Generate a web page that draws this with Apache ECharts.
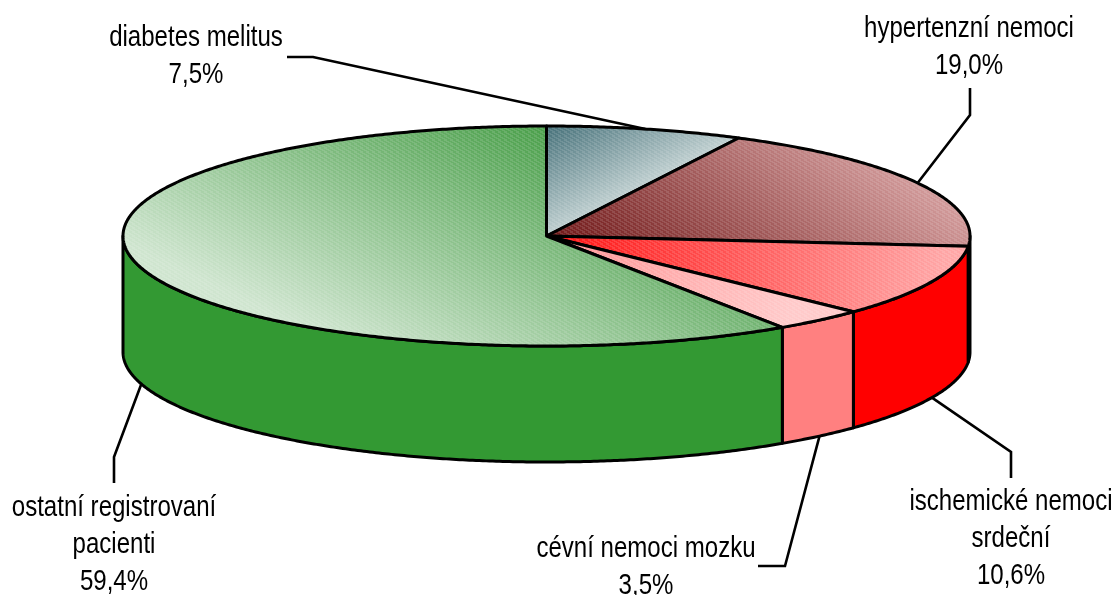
<!DOCTYPE html>
<html>
<head>
<meta charset="utf-8">
<style>
  html, body { margin: 0; padding: 0; background: #fff; }
  #chart { width: 1117px; height: 595px; }
</style>
<script src="https://cdn.jsdelivr.net/npm/echarts@6/dist/echarts.min.js"></script>
</head>
<body>
<div id="chart"></div>
<script>
// hodnoty z obrazku, poradi po smeru hodin od 12 hodin
var categories = ['diabetes melitus', 'hypertenzní nemoci', 'ischemické nemoci\nsrdeční', 'cévní nemoci mozku', 'ostatní registrovaní\npacienti'];
var values = [7.5, 19.0, 10.6, 3.5, 59.4];

// vzhled a rozlozeni
var cx = 546.5, cy = 236, rx = 423.5, ry = 110, depth = 116;
var sideColors = ['#4d7a80', '#8c3a3a', '#ff0000', '#ff8080', '#339933'];
var topGradients = [
  [546, 126, 595, 220, '#457079', '#c8d6d6'],
  [546, 236, 714, 12, '#701818', '#d6a0a0'],
  [546, 236, 940, 290, '#ff1010', '#ffa6a6'],
  [546, 236, 790, 320, '#ff9090', '#ffcaca'],
  [546, 126, 425, 385, '#4a9f4a', '#cfe5cf']
];
var leaderBends = [
  [[313, 57], [287, 57]],
  [[970, 115], [970, 88]],
  [[1011, 452], [1011, 478]],
  [[785, 566], [758, 566]],
  [[114, 457], [114, 483]]
];
var labelPos = [[196, 38], [969, 29], [1011, 502], [646, 549], [114, 508]];
var lineHeight = 37;
var fontCss = '29.5px "Liberation Sans", Arial, sans-serif';
var textSqueeze = 0.815;

var total = values.reduce(function (a, b) { return a + b; }, 0);
var starts = [];
values.reduce(function (sum, v, i) { starts[i] = sum; return sum + v; }, 0);

function ang(share) { return share / total * Math.PI * 2; }
function pt(a, dy) { return [cx + rx * Math.sin(a), cy - ry * Math.cos(a) + (dy || 0)]; }
function arc(a1, a2, dy) {
  var n = Math.max(2, Math.ceil(Math.abs(a2 - a1) / 0.008)), out = [];
  for (var i = 0; i <= n; i++) out.push(pt(a1 + (a2 - a1) * i / n, dy));
  return out;
}

// jemne srafovani horni plochy
var hatch = document.createElement('canvas');
hatch.width = 6; hatch.height = 4;
(function () {
  var c = hatch.getContext('2d');
  c.fillStyle = 'rgba(255,255,255,0.12)';
  c.fillRect(0, 0, 3, 1); c.fillRect(2, 1, 3, 1); c.fillRect(4, 2, 2, 1); c.fillRect(0, 2, 1, 1); c.fillRect(0, 3, 3, 1);
})();

function renderLeader(params, api) {
  var i = api.value(0);
  var mid = ang(starts[i] + api.value(1) / 2);
  var front = Math.cos(mid) < 0;
  var pts = [pt(mid, front ? depth : 0)].concat(leaderBends[i]);
  return { type: 'polyline', shape: { points: pts }, style: { stroke: '#000', lineWidth: 2.6, fill: null } };
}

function renderSide(params, api) {
  var i = api.value(0);
  var a1 = Math.max(ang(starts[i]), Math.PI / 2);
  var a2 = Math.min(ang(starts[i] + api.value(1)), Math.PI * 1.5);
  if (a2 <= a1) return null;
  var pts = arc(a1, a2, 0).concat(arc(a2, a1, depth));
  return { type: 'polygon', shape: { points: pts }, style: { fill: sideColors[i], stroke: '#000', lineWidth: 3, lineJoin: 'round' } };
}

function renderTop(params, api) {
  var i = api.value(0);
  var a1 = ang(starts[i]), a2 = ang(starts[i] + api.value(1));
  var pts = [[cx, cy]].concat(arc(a1, a2, 0));
  var g = topGradients[i];
  return {
    type: 'group',
    children: [
      { type: 'polygon', shape: { points: pts }, style: {
        fill: { type: 'linear', global: true, x: g[0], y: g[1], x2: g[2], y2: g[3],
          colorStops: [{ offset: 0, color: g[4] }, { offset: 1, color: g[5] }] } } },
      { type: 'polygon', shape: { points: pts }, style: {
        fill: { image: hatch, repeat: 'repeat' }, stroke: '#000', lineWidth: 3, lineJoin: 'round' } }
    ]
  };
}

function renderLabel(params, api) {
  var i = api.value(0);
  var lines = categories[i].split('\n').concat(api.value(1).toFixed(1).replace('.', ',') + '%');
  return {
    type: 'group',
    children: lines.map(function (t, k) {
      return { type: 'text', x: labelPos[i][0], y: labelPos[i][1] + k * lineHeight, scaleX: textSqueeze,
        style: { text: t, textAlign: 'center', textVerticalAlign: 'middle', font: fontCss, fill: '#000' } };
    })
  };
}

var seriesData = values.map(function (v, i) { return [i, v]; });
function layer(fn) {
  return { type: 'custom', coordinateSystem: 'none', silent: true, renderItem: fn, data: seriesData, animation: false };
}

var chart = echarts.init(document.getElementById('chart'), null, { renderer: 'canvas' });
chart.setOption({
  animation: false,
  backgroundColor: '#fff',
  series: [layer(renderLeader), layer(renderSide), layer(renderTop), layer(renderLabel)]
});
</script>
</body>
</html>
